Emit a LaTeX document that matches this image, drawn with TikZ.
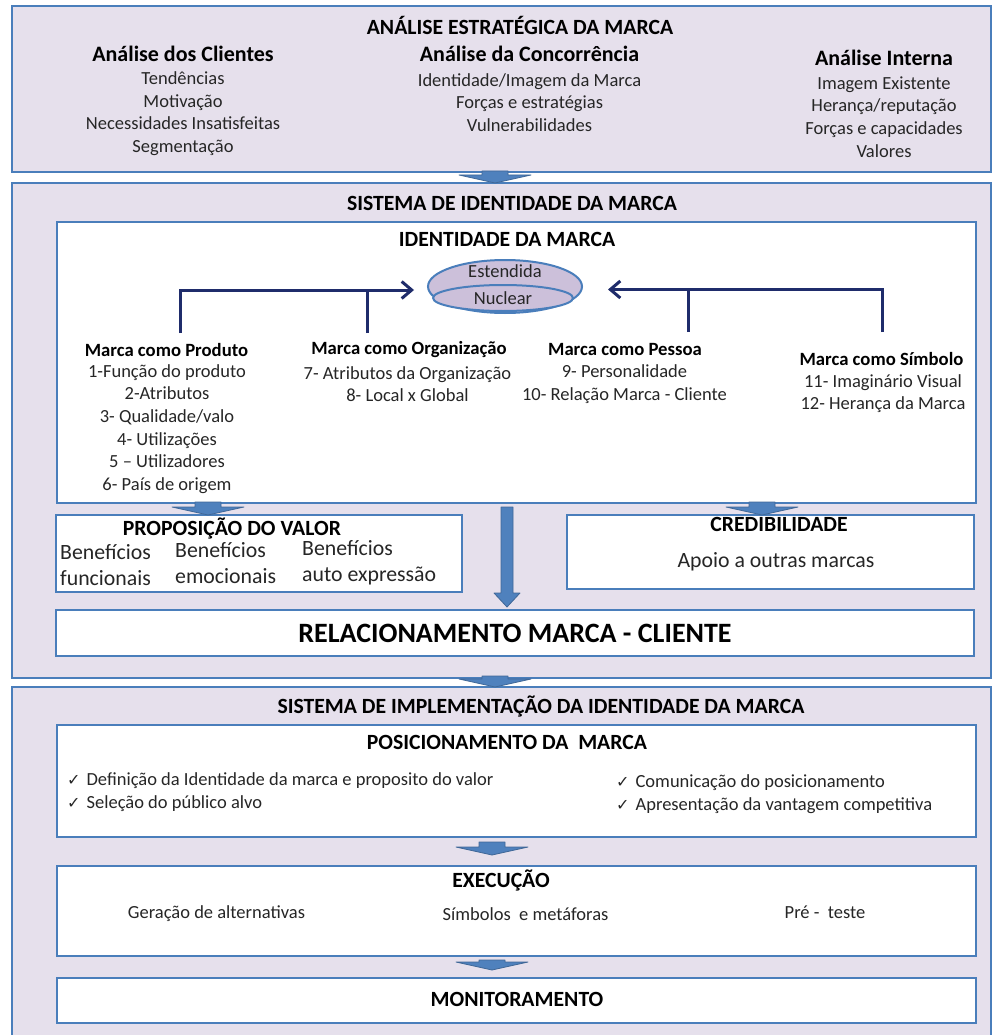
\documentclass[tikz,border=0pt]{standalone}
\usepackage{fontspec}
\setmainfont{Carlito}
\newfontfamily\checkfont{DejaVu Sans}
\usetikzlibrary{shapes.geometric,arrows.meta,positioning,calc}
\definecolor{lavbg}{HTML}{E6E0EC}
\definecolor{boxblue}{HTML}{4A7EBB}
\definecolor{ovalfill}{HTML}{CCC0DA}
\definecolor{navyline}{HTML}{1F2C6B}
\definecolor{arrowblue}{HTML}{4F81BD}
\definecolor{txtgray}{HTML}{262626}
\newcommand{\chk}{{\checkfont\fontsize{16}{18}\selectfont ✓}\hspace{6pt}}

\begin{document}
\begin{tikzpicture}[x=1pt,y=-1pt,
  outerbox/.style={draw=boxblue,line width=2.5pt,fill=lavbg,minimum width=979pt,inner sep=0pt,outer sep=0pt},
  innerbox/.style={draw=boxblue,line width=2.5pt,fill=white,inner sep=0pt,outer sep=0pt},
  ovalbox/.style={ellipse,draw=boxblue,line width=2pt,fill=ovalfill,inner sep=0pt},
  ttl/.style={font=\bfseries\fontsize{21.7}{25}\selectfont,text=black,inner sep=0pt},
  sub/.style={font=\bfseries\fontsize{22}{26}\selectfont,text=black,inner sep=0pt},
  hd/.style={font=\bfseries\fontsize{18.7}{22.4}\selectfont,text=black,inner sep=0pt},
  txt/.style={font=\fontsize{18.5}{22.6}\selectfont,text=txtgray,align=center,inner sep=0pt},
  bigtxt/.style={font=\fontsize{21.8}{26}\selectfont,text=txtgray,align=left,inner sep=0pt},
  chev/.style={fill=arrowblue,draw=arrowblue!80!black,line width=0.8pt,line join=round},
  link/.style={draw=navyline,line width=3pt},
  linkarrow/.style={link,-{Straight Barb[length=10pt,width=17pt]}}]
  \useasboundingbox (0,0) rectangle (994,1035);
  \clip (0,0) rectangle (994,1035);
  \fill[white] (0,0) rectangle (994,1035);

  \node[outerbox,minimum height=166pt] (estrat) at (501.5,89) {};
  \node[outerbox,minimum height=495pt] (sistema) at (501.5,430.5) {};
  \node[outerbox,minimum height=358pt] (implem) at (501.5,866) {};

  \node[innerbox,minimum width=919pt,minimum height=281pt] (ident) at (516.5,362.5) {};
  \node[innerbox,minimum width=406pt,minimum height=77pt] (prop) at (259,553.5) {};
  \node[innerbox,minimum width=407pt,minimum height=74pt] (cred) at (770.5,552) {};
  \node[innerbox,minimum width=918pt,minimum height=46pt] (rel) at (515,633) {};
  \node[innerbox,minimum width=919pt,minimum height=112pt] (posic) at (516.5,781) {};
  \node[innerbox,minimum width=919pt,minimum height=90pt] (execu) at (516.5,911) {};
  \node[innerbox,minimum width=919pt,minimum height=45pt] (monit) at (516.5,1000.5) {};

  \foreach \src/\dst/\cx/\ya/\yb in {estrat/sistema/495/1/0, ident/prop/208/1/0,
      ident/cred/762/1/0, sistema/implem/495/2/0, posic/execu/492/-5/11, execu/monit/492/-4/8} {
    \filldraw[chev] let \p1=([yshift=\ya pt]\src.south), \p2=([yshift=\yb pt]\dst.north) in
      ({(\cx-13)*1pt},\y1) -- ({(\cx+13)*1pt},\y1) -- ({(\cx+13)*1pt},{\y2+8pt})
      -- ({(\cx+36)*1pt},{\y2+8pt}) -- ({\cx*1pt},\y2) -- ({(\cx-36)*1pt},{\y2+8pt})
      -- ({(\cx-13)*1pt},{\y2+8pt}) -- cycle;
  }
  \filldraw[chev] let \p1=([xshift=-9.5pt,yshift=-4pt]ident.south), \p2=([yshift=3pt]rel.north) in
    ({\x1-6pt},\y1) -- ({\x1+6pt},\y1) -- ({\x1+6pt},{\y2+14pt}) -- ({\x1+13pt},{\y2+14pt})
    -- (\x1,\y2) -- ({\x1-13pt},{\y2+14pt}) -- ({\x1-6pt},{\y2+14pt}) -- cycle;

  \node[ttl] (estratT) at (520,25) {ANÁLISE ESTRATÉGICA DA MARCA};
  \node[sub] (cliH) at (183,54) {Análise dos Clientes};
  \node[txt] (cliL) at (183,113.5) {Tendências\\Motivação\\Necessidades Insatisfeitas\\Segmentação};
  \node[sub] (conH) at (529.5,54) {Análise da Concorrência};
  \node[txt] (conL) at (529.5,102.5) {Identidade/Imagem da Marca\\Forças e estratégias\\Vulnerabilidades};
  \node[sub] (intH) at (884,58) {Análise Interna};
  \node[txt] (intL) at (884,117) {Imagem Existente\\Herança/reputação\\Forças e capacidades\\Valores};

  \node[ttl] (sistemaT) at (512,203) {SISTEMA DE IDENTIDADE DA MARCA};
  \node[ttl] (identT) at (507,239) {IDENTIDADE DA MARCA};
  \node[ovalbox,minimum width=154pt,minimum height=53pt] (oval) at (505,286.5) {};
  \node[ovalbox,minimum width=140pt,minimum height=26pt] (core) at (503,298) {};
  \node[txt] (ext) at (505,271) {Estendida};
  \node[txt] (nuc) at (503,298) {Nuclear};

  \node[hd] (prodH) at (166.5,350) {Marca como Produto};
  \node[txt] (prodL) at (167,429) {1-Função do produto\\2-Atributos\\3- Qualidade/valo\\4- Utilizações\\5 – Utilizadores\\6- País de origem};
  \node[hd] (orgH) at (409,350) {Marca como Organização};
  \node[txt] (orgL) at (407.5,384) {7- Atributos da Organização\\8- Local x Global};
  \node[hd] (pesH) at (625,350) {Marca como Pessoa};
  \node[txt] (pesL) at (624.5,384) {9- Personalidade\\10- Relação Marca - Cliente};
  \node[hd] (simH) at (881.5,359) {Marca como Símbolo};
  \node[txt] (simL) at (883,393.5) {11- Imaginário Visual\\12- Herança da Marca};

  \coordinate (pfoot) at (180,333);
  \coordinate (ofoot) at (367,333);
  \coordinate (pefoot) at (688,332);
  \coordinate (sfoot) at (882,332);
  \coordinate (lend) at ([xshift=-13pt,yshift=-3.5pt]oval.west);
  \coordinate (rend) at ([xshift=25pt,yshift=-3pt]oval.east);
  \draw[linkarrow] (pfoot) |- (lend);
  \draw[link] (ofoot) -- (ofoot |- lend);
  \draw[linkarrow] (sfoot) |- (rend);
  \draw[link] (pefoot) -- (pefoot |- rend);

  \node[ttl] (propT) at (232,528) {PROPOSIÇÃO DO VALOR};
  \node[bigtxt,anchor=west] (funcL) at (60,565) {Benefícios\\funcionais};
  \node[bigtxt,anchor=west] (emoL) at (175,563) {Benefícios\\emocionais};
  \node[bigtxt,anchor=west] (autoL) at (302,563) {Benefícios\\auto expressão};
  \node[ttl] (credT) at (779,524) {CREDIBILIDADE};
  \node[bigtxt] (credL) at (776,562) {Apoio a outras marcas};
  \node[font=\bfseries\fontsize{28}{32}\selectfont,inner sep=0pt] (relT) at (515,633) {RELACIONAMENTO MARCA - CLIENTE};

  \node[ttl] (implemT) at (541,706) {SISTEMA DE IMPLEMENTAÇÃO DA IDENTIDADE DA MARCA};
  \node[ttl] (posicT) at (507,742) {POSICIONAMENTO DA \ MARCA};
  \node[txt,align=left,anchor=west] (posL) at (67,792) {\chk Definição da Identidade da marca e proposito do valor\\\chk Seleção do público alvo};
  \node[txt,align=left,anchor=west] (posR) at (616,794) {\chk Comunicação do posicionamento\\\chk Apresentação da vantagem competitiva};
  \node[ttl] (execuT) at (501,880) {EXECUÇÃO};
  \node[txt] (geraL) at (216.5,914) {Geração de alternativas};
  \node[txt] (simbL) at (525.5,914) {Símbolos \ e metáforas};
  \node[txt] (preL) at (825,912) {Pré - \ teste};
  \node[ttl] (monitT) at (517,999) {MONITORAMENTO};
\end{tikzpicture}
\end{document}
